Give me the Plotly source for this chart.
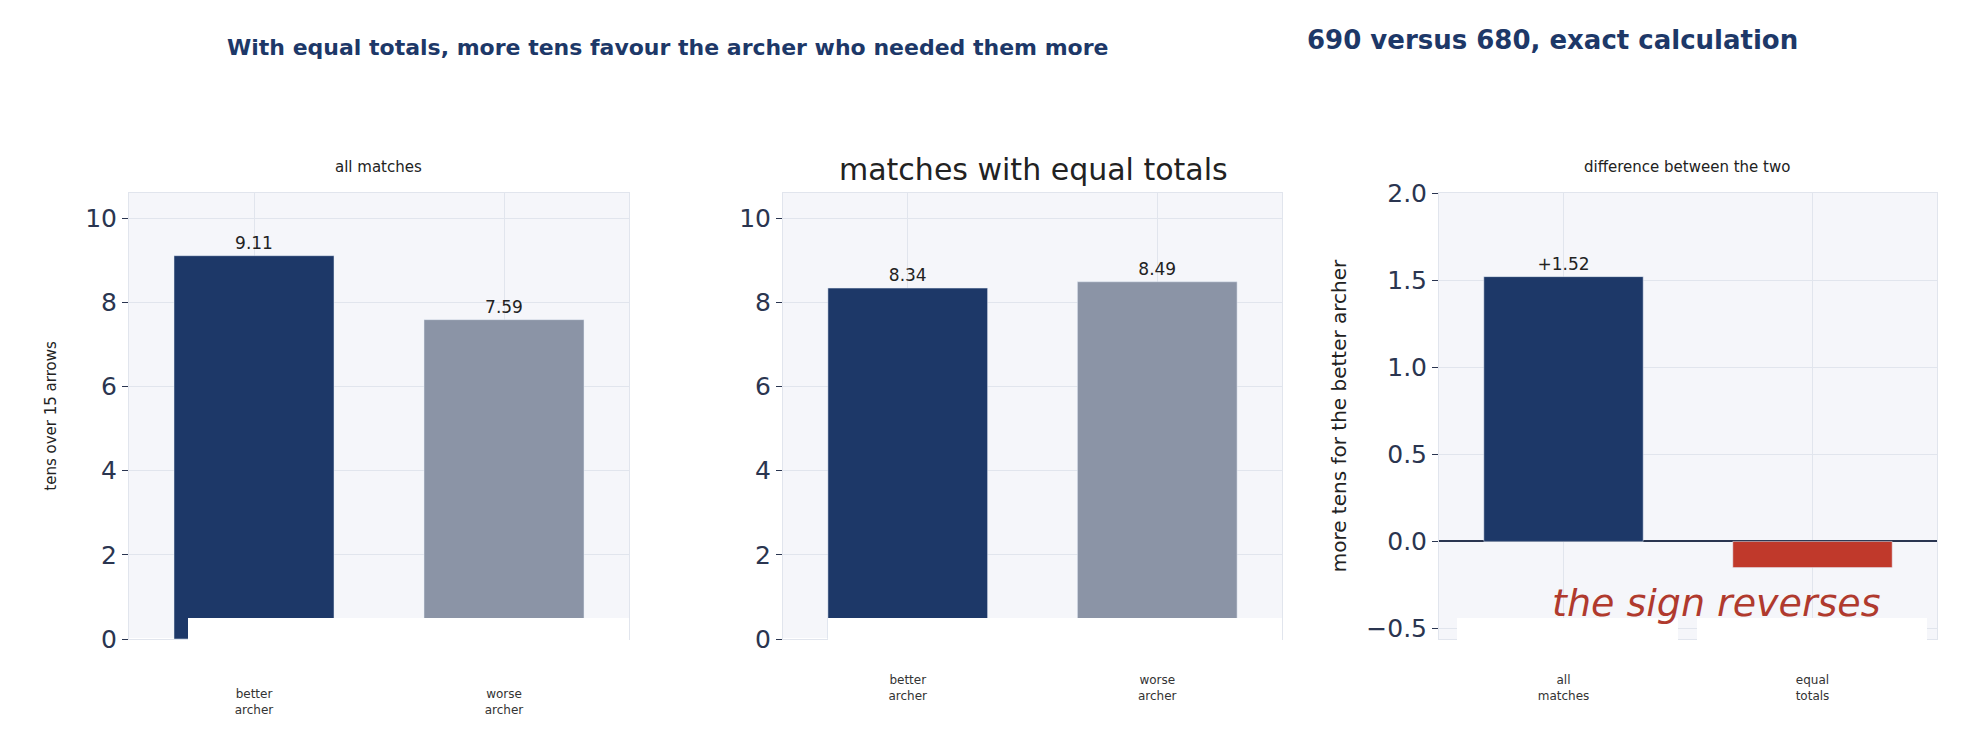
import plotly.graph_objects as go
from plotly.subplots import make_subplots

W, H = 1961, 740

archers = ['better<br>archer', 'worse<br>archer']
tens_all = [9.11, 7.59]
tens_equal = [8.34, 8.49]
diff_cats = ['all<br>matches', 'equal<br>totals']
diff_vals = [1.52, -0.15]
diff_text = ['+1.52', '']

navy = '#1d3868'
grey = '#8b94a6'
red = '#c0392b'
bg = '#f5f6fa'
grid = '#e1e5ed'


def px(x):
    return x / W


def py(y):
    return 1 - y / H


fig = make_subplots(rows=1, cols=3)

fig.add_trace(go.Bar(x=archers, y=tens_all, marker_color=[navy, grey], width=0.64,
                     text=['9.11', '7.59'], textposition='outside',
                     textfont=dict(size=17, color='#222')), 1, 1)
fig.add_trace(go.Bar(x=archers, y=tens_equal, marker_color=[navy, grey], width=0.64,
                     text=['8.34', '8.49'], textposition='outside',
                     textfont=dict(size=17, color='#222')), 1, 2)
fig.add_trace(go.Bar(x=diff_cats, y=diff_vals, marker_color=[navy, red], width=0.64,
                     text=diff_text, textposition='outside',
                     textfont=dict(size=17, color='#222')), 1, 3)

doms = [(121, 621), (775, 1274), (1431, 1929)]
axkw = dict(showgrid=True, gridcolor=grid, showline=True, linecolor=grid, mirror=True,
            automargin=False)
for i, (a, b) in enumerate(doms, start=1):
    fig.update_xaxes(domain=[px(a), px(b)], tickfont=dict(size=12, color='#333'),
                     ticks='', ticklabelstandoff=44 if i == 1 else 30, row=1, col=i, **axkw)
    fig.update_yaxes(domain=[py(631), py(185)], tickfont=dict(size=25, color='#2a3550'),
                     ticks='outside', ticklen=6, tickcolor='#2a3550', row=1, col=i, **axkw)

fig.update_yaxes(range=[0, 10.6], dtick=2, row=1, col=1,
                 title=dict(text='tens over 15 arrows', font=dict(size=15, color='#222'), standoff=24))
fig.update_yaxes(range=[0, 10.6], dtick=2, row=1, col=2)
fig.update_yaxes(range=[-0.56, 2.0], dtick=0.5, tickformat='.1f', zeroline=True,
                 zerolinecolor='#2a3550', zerolinewidth=2, row=1, col=3,
                 title=dict(text='more tens for the better archer', font=dict(size=20, color='#222'), standoff=14))

# white blocks over the lower part of the panels
for x0, x1, y0, y1 in [(180, 621, 610, 642), (820, 1274, 610, 632),
                       (1449, 1670, 610, 632), (1689, 1919, 610, 632)]:
    fig.add_shape(type='rect', xref='paper', yref='paper', x0=px(x0), x1=px(x1),
                  y0=py(y1), y1=py(y0), fillcolor='white', line_width=0, layer='above')

anns = [
    ('<b>With equal totals, more tens favour the archer who needed them more</b>', 659, 39, 22, navy, 'normal'),
    ('<b>690 versus 680, exact calculation</b>', 1544, 32, 26, navy, 'normal'),
    ('all matches', 370, 159, 15, '#222', 'normal'),
    ('matches with equal totals', 1025, 161, 30, '#222', 'normal'),
    ('difference between the two', 1679, 159, 15, '#222', 'normal'),
    ('the sign reverses', 1708, 595, 38, '#b03a2e', 'italic'),
]
for t, x, y, s, c, st in anns:
    fig.add_annotation(text=t, x=px(x), y=py(y), xref='paper', yref='paper', showarrow=False,
                       font=dict(size=s, color=c, style=st), xanchor='center', yanchor='middle')

fig.update_layout(width=W, height=H, margin=dict(l=0, r=0, t=0, b=0, autoexpand=False),
                  showlegend=False, plot_bgcolor=bg, paper_bgcolor='white',
                  font=dict(family='DejaVu Sans'))
fig.write_html("out.html")
